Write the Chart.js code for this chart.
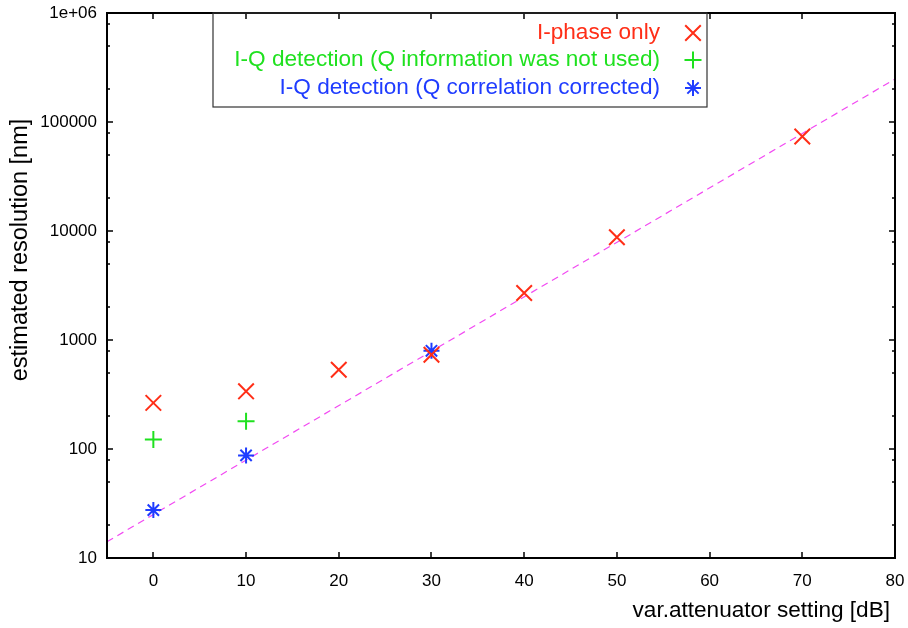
<!DOCTYPE html>
<html>
<head>
<meta charset="utf-8">
<script src="https://cdn.jsdelivr.net/npm/chart.js@4/dist/chart.umd.min.js"></script>
<style>
  html, body { margin: 0; padding: 0; background: #fff; }
  canvas { display: block; }
</style>
</head>
<body>
<canvas id="resChart" width="908" height="628"></canvas>
<script>
// values
var attenuation = [0, 10, 20, 30, 40, 50, 70];
var iPhaseOnly = [265, 338, 534, 733, 2700, 8770, 73600];
var iqAttenuation = [0, 10];
var iqNoQ = [122, 180];
var iqCorrAttenuation = [0, 10, 30];
var iqCorrected = [27.5, 87.4, 796];
var fitAttenuation = [-5, 80];
var fitResolution = [14.1, 247700];

var xTicks = [0, 10, 20, 30, 40, 50, 60, 70, 80];
var yTicks = [10, 100, 1000, 10000, 100000, 1000000];
var yTickLabels = ['10', '100', '1000', '10000', '100000', '1e+06'];
var yMinorSteps = [2, 5, 8];

var labels = [
  'I-phase only',
  'I-Q detection (Q information was not used)',
  'I-Q detection (Q correlation corrected)'
];
var colors = ['#ff2e17', '#1fe11f', '#1f3cff'];
var styles = ['crossRot', 'cross', 'star'];
var radii = [11, 8.5, 8];

var FONT = 'Liberation Sans, Arial, Helvetica, sans-serif';

function pairs(xs, ys) {
  return xs.map(function (x, i) { return {x: x, y: ys[i]}; });
}

// frame, inward ticks, legend box and axis titles (gnuplot look)
var framePlugin = {
  id: 'frame',
  afterDraw: function (chart) {
    var ctx = chart.ctx;
    var a = chart.chartArea;
    var xs = chart.scales.x, ys = chart.scales.y;
    ctx.save();
    ctx.strokeStyle = '#000';
    ctx.lineWidth = 1.5;
    ctx.beginPath();
    xTicks.forEach(function (v) {
      var px = Math.round(xs.getPixelForValue(v));
      ctx.moveTo(px, a.bottom); ctx.lineTo(px, a.bottom - 6);
      ctx.moveTo(px, a.top); ctx.lineTo(px, a.top + 6);
    });
    yTicks.forEach(function (v, k) {
      var py = Math.round(ys.getPixelForValue(v));
      ctx.moveTo(a.left, py); ctx.lineTo(a.left + 6, py);
      ctx.moveTo(a.right, py); ctx.lineTo(a.right - 6, py);
      if (k < yTicks.length - 1) {
        yMinorSteps.forEach(function (m) {
          var pm = Math.round(ys.getPixelForValue(v * m));
          ctx.moveTo(a.left, pm); ctx.lineTo(a.left + 3, pm);
          ctx.moveTo(a.right, pm); ctx.lineTo(a.right - 3, pm);
        });
      }
    });
    ctx.stroke();
    ctx.lineWidth = 2;
    ctx.strokeRect(a.left, a.top, a.right - a.left, a.bottom - a.top);

    // legend
    ctx.lineWidth = 1.2;
    ctx.strokeStyle = '#333';
    ctx.strokeRect(213, a.top, 494, 94);
    ctx.font = '22.6px ' + FONT;
    ctx.textAlign = 'right';
    ctx.textBaseline = 'middle';
    var rowY = [33, 60, 88];
    labels.forEach(function (t, i) {
      ctx.fillStyle = colors[i];
      ctx.fillText(t, 660, rowY[i]);
      ctx.strokeStyle = colors[i];
      ctx.lineWidth = 2;
      Chart.helpers.drawPoint(ctx, {pointStyle: styles[i], radius: radii[i], rotation: 0, borderWidth: 2}, 693, rowY[i]);
    });

    // axis titles
    ctx.fillStyle = '#000';
    ctx.fillText('var.attenuator setting [dB]', 890, 611);
    ctx.textAlign = 'center';
    ctx.font = '23.5px ' + FONT;
    ctx.translate(21, 250);
    ctx.rotate(-Math.PI / 2);
    ctx.fillText('estimated resolution [nm]', 0, 0);
    ctx.restore();
  }
};

var ctx = document.getElementById('resChart');
var resChart = new Chart(ctx, {
  type: 'scatter',
  data: {
    datasets: [{
      label: labels[0],
      data: pairs(attenuation, iPhaseOnly),
      pointStyle: styles[0],
      pointRadius: radii[0],
      pointBorderWidth: 2,
      borderColor: colors[0],
      backgroundColor: colors[0]
    }, {
      label: labels[1],
      data: pairs(iqAttenuation, iqNoQ),
      pointStyle: styles[1],
      pointRadius: radii[1],
      pointBorderWidth: 2,
      borderColor: colors[1],
      backgroundColor: colors[1]
    }, {
      label: labels[2],
      data: pairs(iqCorrAttenuation, iqCorrected),
      pointStyle: styles[2],
      pointRadius: radii[2],
      pointBorderWidth: 2,
      borderColor: colors[2],
      backgroundColor: colors[2]
    }, {
      label: 'fit',
      type: 'line',
      data: pairs(fitAttenuation, fitResolution),
      borderColor: '#f24af2',
      borderWidth: 1.2,
      borderDash: [7, 5],
      pointRadius: 0,
      fill: false
    }]
  },
  options: {
    responsive: false,
    animation: false,
    devicePixelRatio: 1,
    layout: { padding: { top: 11, right: 12, left: 0, bottom: 0 } },
    plugins: {
      legend: { display: false },
      tooltip: { enabled: false }
    },
    scales: {
      x: {
        type: 'linear',
        min: -5,
        max: 80,
        afterBuildTicks: function (s) { s.ticks = xTicks.map(function (v) { return {value: v}; }); },
        afterFit: function (s) { s.height = 70; s.paddingLeft = 0; s.paddingRight = 0; },
        grid: { display: false, drawTicks: false, tickLength: 0 },
        border: { display: false },
        ticks: { color: '#000', font: { family: FONT, size: 17 }, padding: 13, maxRotation: 0 }
      },
      y: {
        type: 'logarithmic',
        min: 10,
        max: 1000000,
        afterBuildTicks: function (s) { s.ticks = yTicks.map(function (v) { return {value: v}; }); },
        afterFit: function (s) { s.width = 107; s.paddingTop = 0; s.paddingBottom = 0; },
        grid: { display: false, drawTicks: false, tickLength: 0 },
        border: { display: false },
        ticks: {
          color: '#000',
          font: { family: FONT, size: 17 },
          padding: 10,
          callback: function (v) {
            var i = yTicks.indexOf(v);
            return i >= 0 ? yTickLabels[i] : '';
          }
        }
      }
    }
  },
  plugins: [framePlugin]
});
</script>
</body>
</html>
